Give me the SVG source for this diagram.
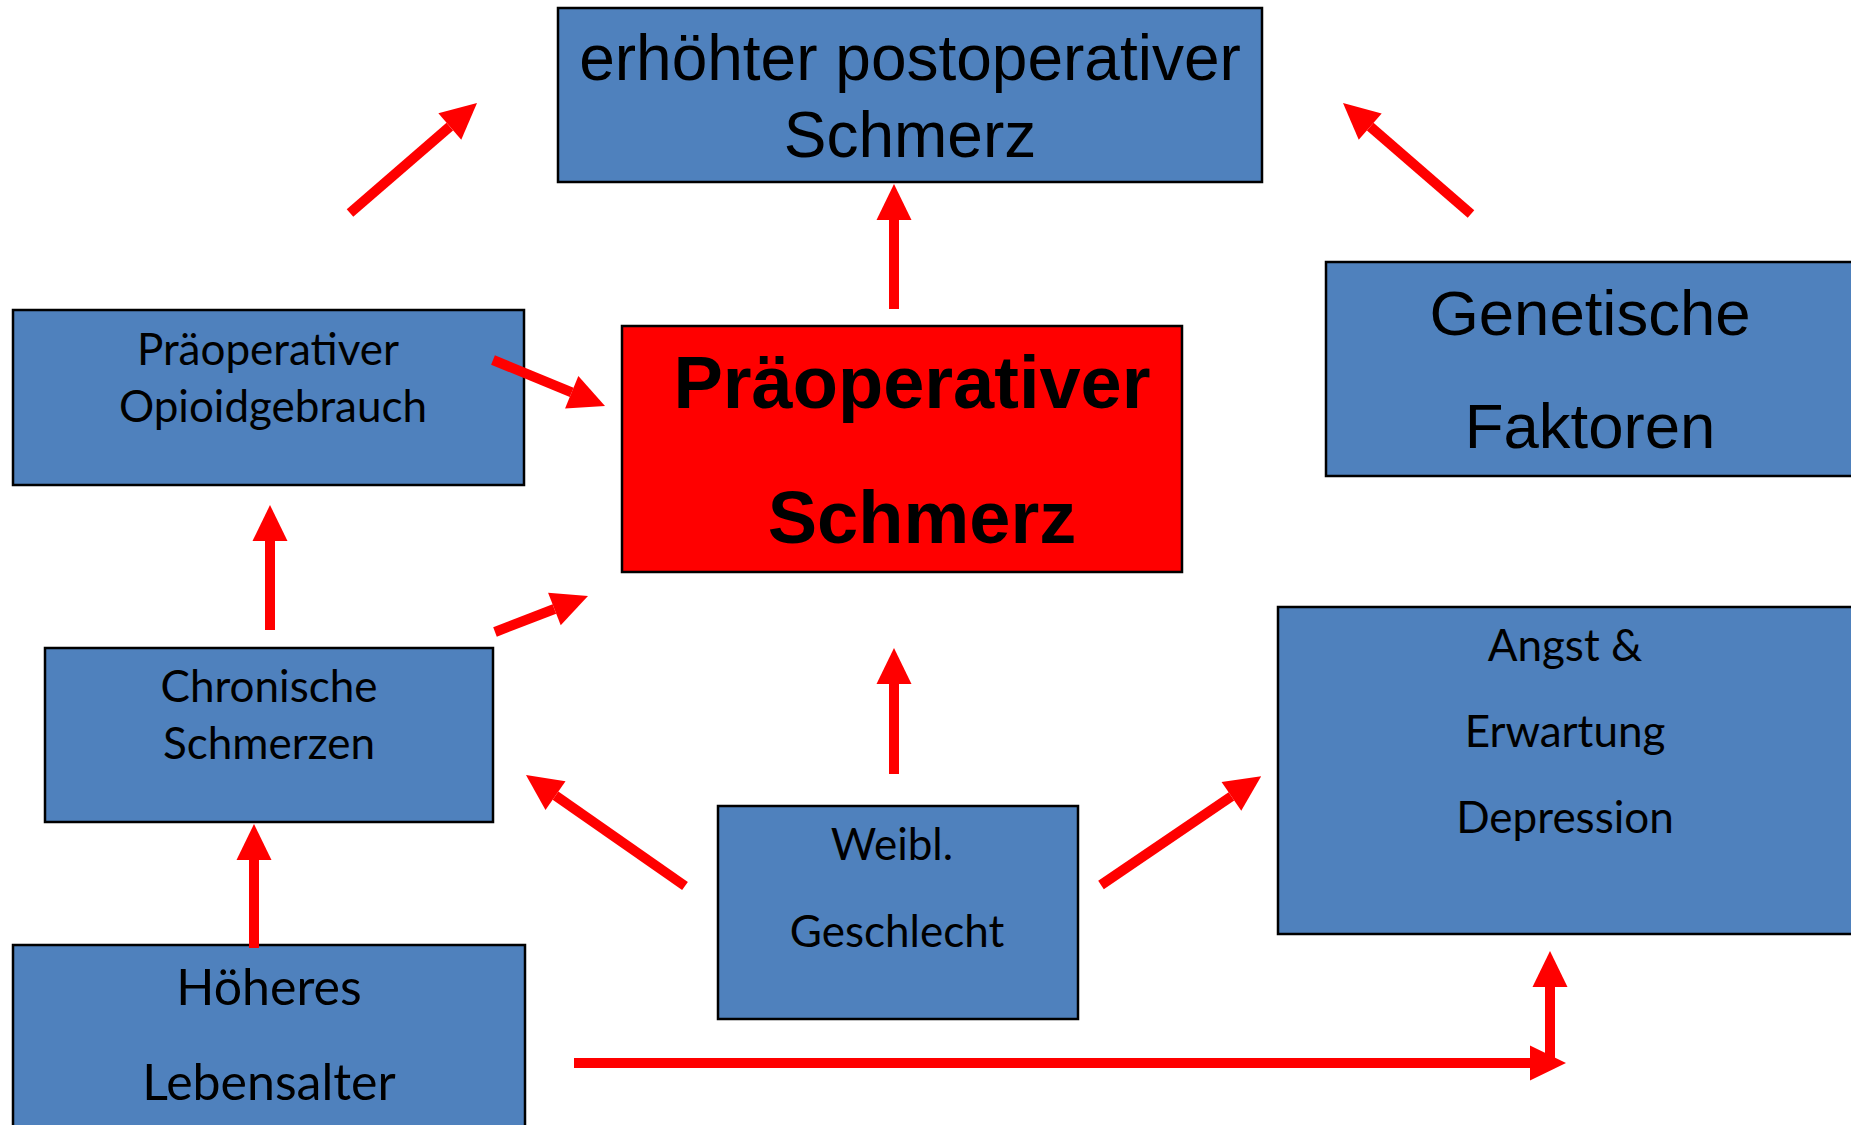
<svg xmlns="http://www.w3.org/2000/svg" width="1851" height="1125" viewBox="0 0 1851 1125">
<defs>
<style>
.box{fill:#4F81BD;stroke:#000;stroke-width:2.5}
.red{fill:#FF0000;stroke:#000;stroke-width:2.5}
.ar{font-family:"Liberation Sans",Arial,sans-serif;fill:#000;text-anchor:middle}
.ca{font-family:Lato,"Open Sans",sans-serif;fill:#000;text-anchor:middle}
.bd{font-family:"Liberation Sans",Arial,sans-serif;font-weight:bold;fill:#000;text-anchor:middle}
.con line{stroke:#FF0000;stroke-width:10;marker-end:url(#ah)}
</style>
<marker id="ah" markerUnits="userSpaceOnUse" markerWidth="40" markerHeight="40" refX="0" refY="17.5" orient="auto" overflow="visible">
<path d="M0,0 L36,17.5 L0,35 z" fill="#FF0000"/>
</marker>
</defs>
<rect width="1851" height="1125" fill="#fff"/>
<g id="n-post">
<rect class="box" x="558" y="8" width="704" height="174"/>
<text class="ar" font-size="64" x="910" y="80">erhöhter postoperativer</text>
<text class="ar" font-size="64" x="910" y="157">Schmerz</text>
</g>
<g id="n-praeschmerz">
<rect class="red" x="622" y="326" width="560" height="246"/>
<text class="bd" font-size="74" x="912" y="408">Präoperativer</text>
<text class="bd" font-size="74" x="922" y="543">Schmerz</text>
</g>
<g id="n-opioid">
<rect class="box" x="13" y="310" width="511" height="175"/>
<text class="ca" font-size="44" x="268" y="365">Präoperativer</text>
<text class="ca" font-size="44" x="273" y="422">Opioidgebrauch</text>
</g>
<g id="n-genetik">
<rect class="box" x="1326" y="262" width="540" height="214"/>
<text class="ar" font-size="63.5" x="1590" y="335">Genetische</text>
<text class="ar" font-size="63.5" x="1590" y="448">Faktoren</text>
</g>
<g id="n-chronisch">
<rect class="box" x="45" y="648" width="448" height="174"/>
<text class="ca" font-size="44" x="269" y="702">Chronische</text>
<text class="ca" font-size="44" x="269" y="759">Schmerzen</text>
</g>
<g id="n-angst">
<rect class="box" x="1278" y="607" width="590" height="327"/>
<text class="ca" font-size="44" x="1565" y="661">Angst &amp;</text>
<text class="ca" font-size="44" x="1565" y="747">Erwartung</text>
<text class="ca" font-size="44" x="1565" y="833">Depression</text>
</g>
<g id="n-weibl">
<rect class="box" x="718" y="806" width="360" height="213"/>
<text class="ca" font-size="44" x="892" y="860">Weibl.</text>
<text class="ca" font-size="44" x="897" y="947">Geschlecht</text>
</g>
<g id="n-alter">
<rect class="box" x="13" y="945" width="512" height="200"/>
<text class="ca" font-size="50" x="269" y="1005">Höheres</text>
<text class="ca" font-size="50" x="269" y="1100">Lebensalter</text>
</g>
<g id="connectors" class="con">
<line x1="350" y1="213" x2="449.8" y2="126.6"/>
<line x1="894" y1="309" x2="894" y2="220"/>
<line x1="1471" y1="214" x2="1370.2" y2="126.6"/>
<line x1="493" y1="360" x2="571.7" y2="392.3"/>
<line x1="270" y1="630" x2="270" y2="541"/>
<line x1="495" y1="632" x2="554.4" y2="609"/>
<line x1="894" y1="774" x2="894" y2="684"/>
<line x1="685" y1="886" x2="555.5" y2="795.6"/>
<line x1="1101" y1="885" x2="1231.4" y2="796.4"/>
<line x1="254" y1="948" x2="254" y2="860"/>
<line x1="574" y1="1063" x2="1530" y2="1063"/>
<line x1="1550" y1="1063" x2="1550" y2="987"/>
</g>
</svg>
